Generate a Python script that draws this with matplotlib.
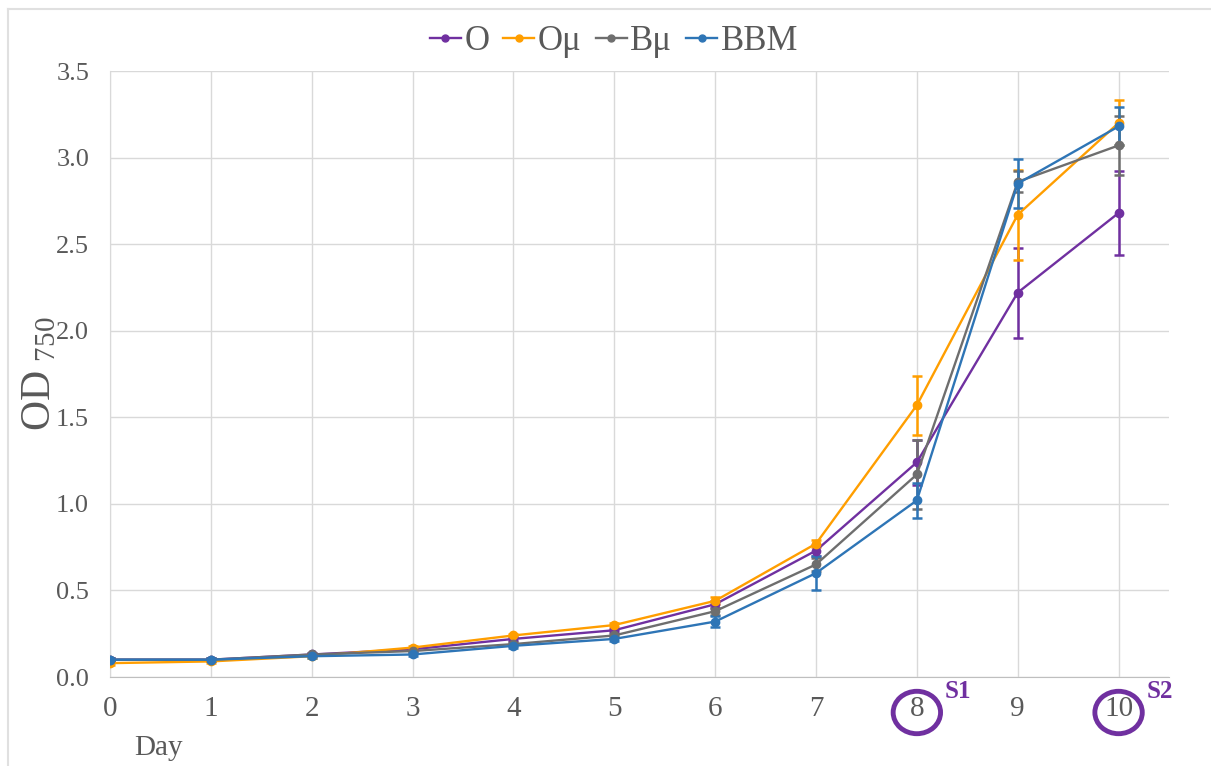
import matplotlib
matplotlib.use("Agg")
import matplotlib.pyplot as plt
from matplotlib.patches import Ellipse
from matplotlib.lines import Line2D

days = [0, 1, 2, 3, 4, 5, 6, 7, 8, 9, 10]
series_names = ["O", "Oμ", "Bμ", "BBM"]
O_vals = [0.10, 0.10, 0.13, 0.16, 0.22, 0.27, 0.42, 0.73, 1.24, 2.22, 2.68]
O_err = [0.01, 0.01, 0.01, 0.01, 0.01, 0.01, 0.02, 0.03, 0.13, 0.26, 0.24]
Omu_vals = [0.08, 0.09, 0.12, 0.17, 0.24, 0.30, 0.44, 0.77, 1.57, 2.67, 3.20]
Omu_err = [0.01, 0.01, 0.01, 0.01, 0.01, 0.01, 0.02, 0.02, 0.17, 0.26, 0.13]
Bmu_vals = [0.10, 0.10, 0.13, 0.15, 0.19, 0.24, 0.38, 0.65, 1.17, 2.86, 3.07]
Bmu_err = [0.01, 0.01, 0.01, 0.01, 0.01, 0.01, 0.02, 0.04, 0.20, 0.06, 0.17]
BBM_vals = [0.10, 0.10, 0.12, 0.13, 0.18, 0.22, 0.32, 0.60, 1.02, 2.85, 3.18]
BBM_err = [0.01, 0.01, 0.01, 0.01, 0.01, 0.01, 0.03, 0.10, 0.10, 0.14, 0.11]
yticks = [0.0, 0.5, 1.0, 1.5, 2.0, 2.5, 3.0, 3.5]
sample_days = [8, 10]
sample_labels = ["S1", "S2"]

colors = ["#7030A0", "#FF9E00", "#6E6E6E", "#2E75B6"]
text_grey = "#595959"
serif = "Liberation Serif"
plt.rcParams["font.family"] = [serif, "DejaVu Serif"]
plt.rcParams["mathtext.fontset"] = "custom"
plt.rcParams["mathtext.rm"] = serif
plt.rcParams["mathtext.default"] = "regular"

fig = plt.figure(figsize=(12.11, 7.66), dpi=100)
ax = fig.add_axes([110 / 1211, 1 - 677 / 766, (1169 - 110) / 1211, (677 - 71) / 766])

vals = [O_vals, Omu_vals, Bmu_vals, BBM_vals]
errs = [O_err, Omu_err, Bmu_err, BBM_err]
handles = []
for name, v, e, c in zip(series_names, vals, errs, colors):
    ax.errorbar(days, v, yerr=e, color=c, lw=1.7, marker="o", ms=6,
                capsize=3.5, capthick=1.8, elinewidth=1.8, zorder=3)
    handles.append(Line2D([], [], color=c, lw=1.7, marker="o", ms=5, label=name))

ax.set_xlim(0, 10.5)
ax.set_ylim(0, 3.5)
ax.set_xticks(days)
ax.set_yticks(yticks)
ax.set_yticklabels([f"{t:.1f}" for t in yticks])
ax.grid(True, color="#D9D9D9", lw=1)
ax.set_axisbelow(True)
for s in ["top", "right"]:
    ax.spines[s].set_visible(False)
ax.spines["left"].set_color("#D9D9D9")
ax.spines["bottom"].set_color("#BFBFBF")
ax.tick_params(length=0, colors=text_grey)
ax.tick_params(axis="x", labelsize=21, pad=14)
ax.tick_params(axis="y", labelsize=19, pad=15)

ax.set_ylabel("OD$_{\\ 750}$", fontsize=30, color=text_grey, labelpad=-2)
ax.text(0.476, -0.41, "Day", fontsize=21, color=text_grey, transform=ax.transData,
        ha="center", va="center", clip_on=False)

for d, lab in zip(sample_days, sample_labels):
    ell = Ellipse((d, -0.205), 0.47, 0.245, fill=False, edgecolor=colors[0], lw=3.5,
                  clip_on=False, transform=ax.transData)
    ax.add_patch(ell)
    ax.text(d + 0.28, -0.085, lab, fontsize=18, fontweight="bold", color=colors[0],
            ha="left", va="center", clip_on=False)

fig.legend(handles=handles, loc="upper center", bbox_to_anchor=(0.507, 1.008), ncol=4,
           frameon=False, fontsize=25, handlelength=0.9, handletextpad=0.1,
           columnspacing=0.4, labelcolor=text_grey)

fig.add_artist(Line2D([8 / 1211, 1], [1 - 9 / 766, 1 - 9 / 766], color="#E0E0E0", lw=1.5,
                      transform=fig.transFigure))
fig.add_artist(Line2D([8 / 1211, 8 / 1211], [0, 1 - 9 / 766], color="#E0E0E0", lw=1.5,
                      transform=fig.transFigure))

fig.savefig("out.png", dpi=100)
